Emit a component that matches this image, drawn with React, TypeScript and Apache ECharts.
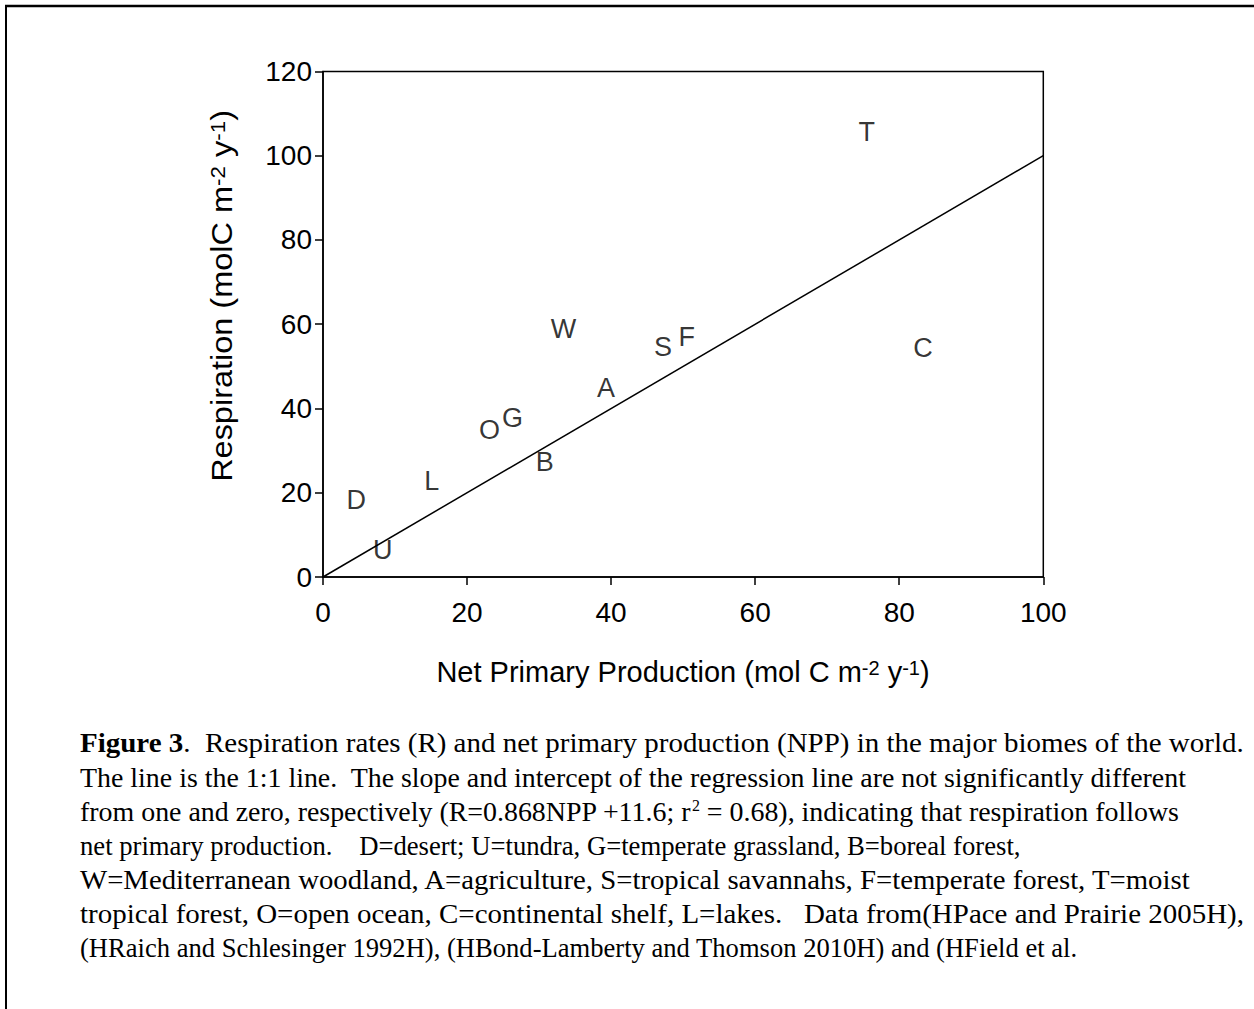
import React, { useEffect, useRef } from "react";
import * as echarts from "echarts";

const biomeLetters = ["D", "U", "L", "O", "G", "B", "A", "W", "S", "F", "T", "C"];
const nppValues = [4.6, 8.3, 15.1, 23.1, 26.3, 30.8, 39.3, 33.4, 47.2, 50.5, 75.5, 83.3];
const respValues = [18.3, 6.4, 22.9, 34.9, 37.7, 27.4, 44.8, 58.8, 54.7, 56.9, 105.7, 54.3];
const oneToOneLine = [
  [0, 0],
  [100, 100],
];

const xTitle = "Net Primary Production (mol C m{sup|-2} y{sup|-1})";
const yTitle = "Respiration (molC m{sup|-2} y{sup|-1})";

const captionLines = [
  "{b|Figure 3}.\u00a0 Respiration rates (R) and net primary production (NPP) in the major biomes of the world.",
  "The line is the 1:1 line.\u00a0 The slope and intercept of the regression line are not significantly different",
  "from one and zero, respectively (R=0.868NPP +11.6; r{sup|2} = 0.68), indicating that respiration follows",
  "net primary production.\u00a0\u00a0\u00a0 D=desert; U=tundra, G=temperate grassland, B=boreal forest,",
  "W=Mediterranean woodland, A=agriculture, S=tropical savannahs, F=temperate forest, T=moist",
  "tropical forest, O=open ocean, C=continental shelf, L=lakes.\u00a0\u00a0 Data from(HPace and Prairie 2005H),",
  "(HRaich and Schlesinger 1992H), (HBond-Lamberty and Thomson 2010H) and (HField et al.",
];
// horizontal stretch of each caption line (layout only)
const captionStretch = [1.035, 0.997, 0.997, 0.953, 1.027, 1.035, 0.95];

const W = 1254;
const H = 1009;

export default function App() {
  const ref = useRef<HTMLDivElement>(null);
  useEffect(() => {
    document.body.style.margin = "0";
    if (!ref.current) return;
    const chart = echarts.init(ref.current, null, { renderer: "svg" });
    const sans = "Liberation Sans, Arial, sans-serif";
    const serif = "Liberation Serif, Times New Roman, serif";
    const scatterData = nppValues.map((x, i) => ({
      value: [x, respValues[i]],
      label: { formatter: biomeLetters[i] },
    }));
    const captionGraphics = captionLines.map((t, i) => ({
      type: "text",
      x: 80,
      y: 743 + i * 34.2,
      scaleX: captionStretch[i],
      style: {
        text: t,
        fontSize: 28,
        fontFamily: serif,
        fill: "#000",
        verticalAlign: "middle",
        lineHeight: 28,
        rich: {
          b: { fontWeight: "bold", fontSize: 28, fontFamily: serif, fill: "#000", lineHeight: 28 },
          sup: { fontSize: 16, fontFamily: serif, fill: "#000", lineHeight: 16, verticalAlign: "top" },
        },
      },
    }));
    chart.setOption({
      animation: false,
      backgroundColor: "#fff",
      grid: {
        left: 323,
        top: 71.4,
        right: W - 1043.3,
        bottom: H - 577,
        show: true,
        borderColor: "#000",
        borderWidth: 1.5,
      },
      xAxis: {
        type: "value",
        min: 0,
        max: 100,
        interval: 20,
        splitLine: { show: false },
        axisLine: { lineStyle: { color: "#000", width: 1.5 } },
        axisTick: { show: true, inside: false, length: 8, lineStyle: { color: "#000", width: 1.5 } },
        axisLabel: { color: "#000", fontSize: 28, fontFamily: sans, margin: 21 },
      },
      yAxis: {
        type: "value",
        min: 0,
        max: 120,
        interval: 20,
        splitLine: { show: false },
        axisLine: { lineStyle: { color: "#000", width: 1.5 } },
        axisTick: { show: true, inside: false, length: 8, lineStyle: { color: "#000", width: 1.5 } },
        axisLabel: { color: "#000", fontSize: 28, fontFamily: sans, margin: 11 },
      },
      series: [
        {
          type: "line",
          data: oneToOneLine,
          showSymbol: false,
          symbol: "none",
          lineStyle: { color: "#000", width: 1.5 },
          silent: true,
        },
        {
          type: "scatter",
          data: scatterData,
          symbolSize: 1,
          itemStyle: { color: "rgba(0,0,0,0)" },
          label: {
            show: true,
            position: "inside",
            color: "#000",
            fontSize: 27,
            fontFamily: sans,
          },
          silent: true,
        },
      ],
      graphic: [
        {
          type: "line",
          shape: { x1: 5, y1: 6, x2: W, y2: 6 },
          style: { stroke: "#000", lineWidth: 2.5 },
        },
        {
          type: "line",
          shape: { x1: 6, y1: 5, x2: 6, y2: H },
          style: { stroke: "#000", lineWidth: 2 },
        },
        {
          type: "text",
          x: 683,
          y: 672,
          style: {
            text: xTitle,
            fontSize: 29,
            fontFamily: sans,
            fill: "#000",
            align: "center",
            verticalAlign: "middle",
            lineHeight: 29,
            rich: {
              sup: { fontSize: 20, fontFamily: sans, fill: "#000", lineHeight: 20, verticalAlign: "top" },
            },
          },
        },
        {
          type: "text",
          x: 222,
          y: 296,
          rotation: Math.PI / 2,
          scaleX: 1.12,
          style: {
            text: yTitle,
            fontSize: 29,
            fontFamily: sans,
            fill: "#000",
            align: "center",
            verticalAlign: "middle",
            lineHeight: 29,
            rich: {
              sup: { fontSize: 20, fontFamily: sans, fill: "#000", lineHeight: 20, verticalAlign: "top" },
            },
          },
        },
        ...captionGraphics,
      ],
    });
    return () => chart.dispose();
  }, []);
  return <div ref={ref} style={{ width: W, height: H }} />;
}
